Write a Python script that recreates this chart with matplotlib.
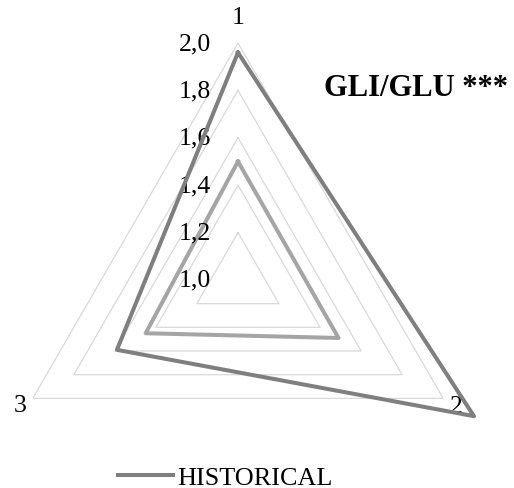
import numpy as np
import matplotlib
matplotlib.use("Agg")
import matplotlib.pyplot as plt
from matplotlib.transforms import ScaledTranslation

plt.rcParams["font.family"] = ["Liberation Serif", "DejaVu Serif"]

categories = ["1", "2", "3"]
historical = [1.96, 2.15, 1.59]
other = [1.50, 1.49, 1.45]
grid_levels = [1.2, 1.4, 1.6, 1.8, 2.0]
tick_levels = [1.0, 1.2, 1.4, 1.6, 1.8, 2.0]
tick_labels = ["1,0", "1,2", "1,4", "1,6", "1,8", "2,0"]
title = "GLI/GLU ***"

DARK = "#7f7f7f"
LIGHT = "#a5a5a5"
GRID = "#d9d9d9"

fig = plt.figure(figsize=(5.14, 4.89), dpi=100)
ax = fig.add_axes([0.002, -0.059, 0.922, 0.969], projection="polar")
ax.set_theta_offset(np.pi / 2)
ax.set_theta_direction(-1)
ax.set_ylim(1.0, 2.0)
ax.grid(False)
ax.spines["polar"].set_visible(False)
ax.set_xticks([])
ax.set_yticks([])
ax.patch.set_alpha(0)

theta = np.linspace(0, 2 * np.pi, len(categories), endpoint=False)
closed = np.append(theta, theta[0])

for lv in grid_levels:
    ax.plot(closed, [lv] * len(closed), color=GRID, lw=0.9, zorder=1)

ax.plot(closed, other + other[:1], color=LIGHT, lw=2.9,
        solid_joinstyle="round", clip_on=False, zorder=3)
line, = ax.plot(closed, historical + historical[:1], color=DARK, lw=2.9,
                solid_joinstyle="round", clip_on=False, zorder=4,
                label="HISTORICAL")

shift = ScaledTranslation(-0.27, 0, fig.dpi_scale_trans)
for v, lab in zip(tick_levels, tick_labels):
    ax.text(0, v, lab, transform=ax.transData + shift, ha="right",
            va="center", fontsize=18.5)

label_r = [2.11, 2.065, 2.06]
for t, lab, r in zip(theta, categories, label_r):
    ax.text(t, r, lab, ha="center", va="center", fontsize=18.5, clip_on=False)

fig.text(0.630, 0.818, title, fontsize=22, fontweight="bold",
         ha="left", va="center")

fig.legend(handles=[line], loc="center", bbox_to_anchor=(0.4387, 0.021),
           frameon=False, fontsize=18.8, handlelength=2.1,
           handletextpad=0.16, borderpad=0, borderaxespad=0)

fig.savefig("out.png", dpi=100)
